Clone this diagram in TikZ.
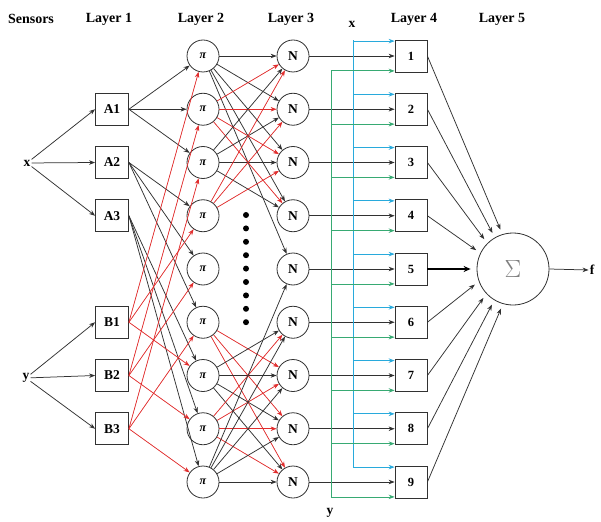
\documentclass[tikz,border=0pt]{standalone}
\usepackage{fontspec}
\setmainfont{Liberation Serif}
\usetikzlibrary{arrows.meta,calc}
\definecolor{lred}{RGB}{225,45,45}
\definecolor{lblue}{RGB}{40,170,220}
\definecolor{lgreen}{RGB}{55,170,115}
\definecolor{dgray}{RGB}{50,50,50}
\begin{document}
\begin{tikzpicture}[x=1pt,y=-1pt,
  tip/.style={-{Stealth[length=6pt,width=4.5pt]}},
  bk/.style={tip,draw=dgray,line width=0.75pt},
  rd/.style={tip,draw=lred,fill=lred,line width=0.7pt},
  bl/.style={tip,draw=lblue,line width=0.8pt},
  gr/.style={tip,draw=lgreen,line width=0.8pt},
  mfbox/.style={draw=dgray,line width=0.8pt,minimum width=33pt,minimum height=32pt,inner sep=0pt,font=\fontsize{13.5}{15}\selectfont\bfseries},
  rulebox/.style={draw=dgray,line width=0.8pt,minimum width=32pt,minimum height=32pt,inner sep=0pt,font=\fontsize{12.5}{14}\selectfont\bfseries},
  pinode/.style={circle,draw=dgray,line width=0.8pt,minimum size=32pt,inner sep=0pt,font=\fontsize{12}{13}\selectfont\bfseries\itshape},
  nnode/.style={circle,draw=dgray,line width=0.8pt,minimum size=32pt,inner sep=0pt,font=\fontsize{13.5}{15}\selectfont\bfseries},
  head/.style={font=\fontsize{14}{16}\selectfont\bfseries,inner sep=0pt},
  lab/.style={font=\fontsize{13.5}{15}\selectfont\bfseries,inner sep=1pt},
  dot/.style={circle,fill=black,minimum size=6pt,inner sep=0pt}
]
\useasboundingbox[fill=white] (0,0) rectangle (601,521);

% headers
\node[head] (hs) at (31,19) {Sensors};
\node[head] (h1) at (109,19) {Layer 1};
\node[head] (h2) at (201,19) {Layer 2};
\node[head] (h3) at (291,19) {Layer 3};
\node[head] (h4) at (414,19) {Layer 4};
\node[head] (h5) at (502,19) {Layer 5};

% inputs
\node[lab] (x) at (27,163) {x};
\node[lab] (y) at (26,378) {y};

% layer 1
\node[mfbox] (A1) at (112,109.25) {A1};
\node[mfbox] (A2) at (112,162.5) {A2};
\node[mfbox] (A3) at (112,215.75) {A3};
\node[mfbox] (B1) at (112,322.25) {B1};
\node[mfbox] (B2) at (112,375.5) {B2};
\node[mfbox] (B3) at (112,428.75) {B3};

% layers 2,3,4
\foreach \i in {1,...,9}{
  \pgfmathsetmacro{\yy}{56+(\i-1)*53.25}
  \node[pinode] (p\i) at (203,\yy) {π};
  \node[nnode] (n\i) at (293,\yy) {N};
  \node[rulebox] (L\i) at (411,\yy) {\i};
}
% dots
\foreach \k in {0,...,8}{
  \node[dot] (d\k) at (246,215+\k*13.4) {};
}

% sum and output
\node[circle,draw=dgray,line width=0.8pt,minimum size=72pt,inner sep=0pt,text=gray,font=\fontsize{26}{28}\selectfont] (S) at (513,269) {$\Sigma$};
\node[lab] (f) at (592,270) {f};

% sensors -> layer 1
\foreach \b in {A1,A2,A3}{ \draw[bk] (x) -- (\b.west); }
\foreach \b in {B1,B2,B3}{ \draw[bk] (y) -- (\b.west); }

% layer 1 -> layer 2
\foreach \p in {1,2,3}{ \draw[bk] (A1.east) -- (p\p); }
\foreach \p in {4,5,6}{ \draw[bk] (A2.east) -- (p\p); }
\foreach \p in {7,8,9}{ \draw[bk] (A3.east) -- (p\p); }
\foreach \p in {1,4,7}{ \draw[rd] (B1.east) -- (p\p); }
\foreach \p in {2,5,8}{ \draw[rd] (B2.east) -- (p\p); }
\foreach \p in {3,6,9}{ \draw[rd] (B3.east) -- (p\p); }

% layer 2 -> layer 3
\foreach \n in {1,...,5}{ \draw[bk] (p1) -- (n\n); }
\foreach \n in {1,...,4}{ \draw[rd] (p2) -- (n\n); }
\foreach \n in {1,...,4}{ \draw[bk] (p3) -- (n\n); }
\foreach \n in {1,...,3}{ \draw[rd] (p4) -- (n\n); }
\foreach \n in {7,...,9}{ \draw[rd] (p6) -- (n\n); }
\foreach \n in {6,...,9}{ \draw[bk] (p7) -- (n\n); }
\foreach \n in {6,...,9}{ \draw[rd] (p8) -- (n\n); }
\foreach \n in {5,...,9}{ \draw[bk] (p9) -- (n\n); }

% layer 3 -> layer 4
\foreach \i in {1,...,9}{ \draw[bk] (n\i) -- (L\i); }

% x and y feeds
\node[lab] (xt) at (352,24) {x};
\node[lab] (yb) at (330,513) {y};
\coordinate (bxt) at (353,40.5);
\coordinate (bxb) at (353,466.5);
\coordinate (gyt) at (331,71.5);
\coordinate (gyb) at (331,498);
\draw[lblue,line width=0.8pt] (bxt) -- (bxb);
\draw[lgreen,line width=0.8pt] (gyt) -- (gyb);
\foreach \i in {1,...,9}{
  \draw[bl] ([yshift=-1.5pt]L\i.north west -| bxt) -- ([yshift=-1.5pt]L\i.north west);
  \draw[gr] ([yshift=1.5pt]L\i.south west -| gyt) -- ([yshift=1.5pt]L\i.south west);
}

% layer 4 -> layer 5
\draw[bk,shorten >=5pt] (L1.east) -- (S.107);
\draw[bk,shorten >=5pt] (L2.east) -- (S.120);
\draw[bk,shorten >=5pt] (L3.east) -- (S.135);
\draw[bk,shorten >=5pt] (L4.east) -- (S.154);
\draw[-{Stealth[length=7pt,width=6pt]},draw=black,line width=1.5pt,shorten >=6pt] (L5.east) -- (S.180);
\draw[bk,shorten >=5pt] (L6.east) -- (S.200);
\draw[bk,shorten >=5pt] (L7.east) -- (S.223);
\draw[bk,shorten >=5pt] (L8.east) -- (S.239);
\draw[bk,shorten >=5pt] (L9.east) -- (S.254);

% output
\draw[bk] (S.east) -- (f.west);
\end{tikzpicture}
\end{document}
